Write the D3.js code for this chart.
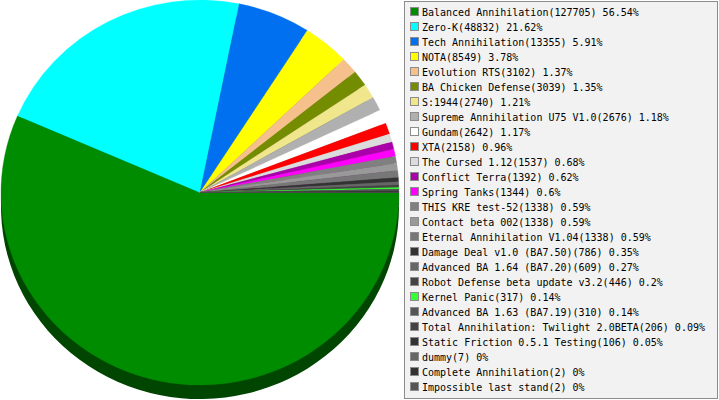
<!DOCTYPE html>
<html>
<head>
<meta charset="utf-8">
<script src="https://cdn.jsdelivr.net/npm/d3@7"></script>
<style>
  html, body { margin: 0; padding: 0; background: #fff; }
  svg { display: block; }
</style>
</head>
<body>
<svg width="719" height="400"></svg>
<script>
const mods = [
  "Balanced Annihilation", "Zero-K", "Tech Annihilation", "NOTA", "Evolution RTS",
  "BA Chicken Defense", "S:1944", "Supreme Annihilation U75 V1.0", "Gundam", "XTA",
  "The Cursed 1.12", "Conflict Terra", "Spring Tanks", "THIS KRE test-52", "Contact beta 002",
  "Eternal Annihilation V1.04", "Damage Deal v1.0 (BA7.50)", "Advanced BA 1.64 (BA7.20)",
  "Robot Defense beta update v3.2", "Kernel Panic", "Advanced BA 1.63 (BA7.19)",
  "Total Annihilation: Twilight 2.0BETA", "Static Friction 0.5.1 Testing", "dummy",
  "Complete Annihilation", "Impossible last stand"
];
const games = [
  127705, 48832, 13355, 8549, 3102,
  3039, 2740, 2676, 2642, 2158,
  1537, 1392, 1344, 1338, 1338,
  1338, 786, 609,
  446, 317, 310,
  206, 106, 7,
  2, 2
];
const colors = [
  "#008c00", "#00ffff", "#0070f0", "#ffff00", "#f5c08c",
  "#738c00", "#f0e68c", "#b0b0b0", "#ffffff", "#ff0000",
  "#dcdcdc", "#aa00aa", "#ff00ff", "#808080", "#999999",
  "#777777", "#333333", "#666666",
  "#444444", "#33ff33", "#555555",
  "#444444", "#333333", "#666666",
  "#333333", "#555555"
];

const svg = d3.select("svg");
const total = d3.sum(games);

const cx = 200, cy = 192.5, rx = 199, ry = 192.5, depth = 14;

const pie = d3.pie().sort(null)
  .startAngle(Math.PI / 2)
  .endAngle(Math.PI / 2 + 2 * Math.PI);
const arcs = pie(games);

const arc = d3.arc().innerRadius(0).outerRadius(rx);

// side of the 3d pie: same slices, shifted down and darker
const sideG = svg.append("g")
  .attr("transform", `translate(${cx},${cy + depth}) scale(1,${ry / rx})`);
sideG.selectAll("path")
  .data(arcs)
  .enter()
  .append("path")
  .attr("d", arc)
  .attr("fill", (d, i) => d3.color(colors[i]).darker(2));

const faceG = svg.append("g")
  .attr("transform", `translate(${cx},${cy}) scale(1,${ry / rx})`);
faceG.selectAll("path")
  .data(arcs)
  .enter()
  .append("path")
  .attr("d", arc)
  .attr("fill", (d, i) => colors[i])
  .attr("stroke", (d, i) => colors[i])
  .attr("stroke-width", 0.3);

// legend
const legend = svg.append("g");
legend.append("rect")
  .attr("x", 404.5)
  .attr("y", 1.5)
  .attr("width", 313)
  .attr("height", 397)
  .attr("fill", "#f2f2f2")
  .attr("stroke", "#8c8c8c");

const row = legend.selectAll("g.row")
  .data(mods)
  .enter()
  .append("g")
  .attr("class", "row")
  .attr("transform", (d, i) => `translate(0,${i * 15})`);

row.append("rect")
  .attr("x", 410.5)
  .attr("y", 7.5)
  .attr("width", 8)
  .attr("height", 8)
  .attr("fill", (d, i) => colors[i])
  .attr("stroke", "#8c8c8c");

const pct = v => Math.round(v / total * 10000) / 100;

row.append("text")
  .attr("x", 422)
  .attr("y", 16)
  .attr("font-family", "DejaVu Sans Mono")
  .attr("font-size", "10px")
  .attr("fill", "#000")
  .text((d, i) => `${d}(${games[i]}) ${pct(games[i])}%`);
</script>
</body>
</html>
